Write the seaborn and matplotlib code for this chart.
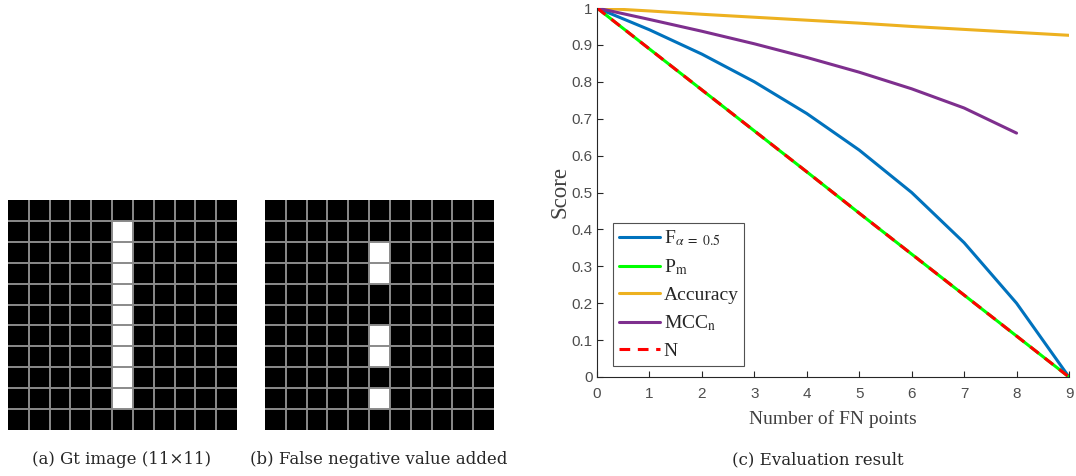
import numpy as np
import pandas as pd
import matplotlib
matplotlib.use("Agg")
import matplotlib.pyplot as plt
from matplotlib.colors import ListedColormap
import seaborn as sns

# ---- data ---------------------------------------------------------------
grid_size = 11
object_col = 5
gt_rows = [1, 2, 3, 4, 5, 6, 7, 8, 9]          # foreground pixels of the ground truth
fn_image_rows = [2, 3, 6, 7, 9]                # foreground kept after adding false negatives

fn_points = [0, 1, 2, 3, 4, 5, 6, 7, 8, 9]
f_alpha = [1.0, 0.941, 0.875, 0.800, 0.714, 0.615, 0.500, 0.364, 0.200, 0.0]
p_m = [1.0, 0.889, 0.778, 0.667, 0.556, 0.444, 0.333, 0.222, 0.111, 0.0]
accuracy = [1.0, 0.992, 0.983, 0.975, 0.967, 0.959, 0.950, 0.942, 0.934, 0.926]
mcc_points = [0, 1, 2, 3, 4, 5, 6, 7, 8]
mcc_n = [1.0, 0.969, 0.937, 0.903, 0.866, 0.826, 0.781, 0.729, 0.661]
n_score = [1.0, 0.889, 0.778, 0.667, 0.556, 0.444, 0.333, 0.222, 0.111, 0.0]

x_ticks = [0, 1, 2, 3, 4, 5, 6, 7, 8, 9]
y_ticks = [0, 0.1, 0.2, 0.3, 0.4, 0.5, 0.6, 0.7, 0.8, 0.9, 1]
y_tick_labels = ["0", "0.1", "0.2", "0.3", "0.4", "0.5", "0.6", "0.7", "0.8", "0.9", "1"]

captions = ["(a) Gt image (11\u00d711)", "(b) False negative value added", "(c) Evaluation result"]

# ---- style --------------------------------------------------------------
sns.set_theme(style="white")
plt.rcParams["font.family"] = ["Liberation Serif", "DejaVu Serif"]
plt.rcParams["mathtext.fontset"] = "stix"

fig = plt.figure(figsize=(10.76, 4.76), dpi=100)

def binary_image(rows):
    img = np.zeros((grid_size, grid_size))
    for r in rows:
        img[r, object_col] = 1
    return pd.DataFrame(img)

def draw_grid_image(ax, rows):
    sns.heatmap(binary_image(rows), ax=ax, cmap=ListedColormap(["black", "white"]),
                vmin=0, vmax=1, cbar=False, xticklabels=False, yticklabels=False)
    ax.hlines(np.arange(1, grid_size), 0, grid_size, colors="#8a8a8a", lw=1.4)
    ax.vlines(np.arange(1, grid_size), 0, grid_size, colors="#8a8a8a", lw=1.4)
    ax.set_xlim(0, grid_size)
    ax.set_ylim(grid_size, 0)
    for s in ax.spines.values():
        s.set_visible(False)

ax_a = fig.add_axes([8 / 1076, 1 - 430 / 476, 229 / 1076, 230 / 476])
draw_grid_image(ax_a, gt_rows)
ax_b = fig.add_axes([265 / 1076, 1 - 430 / 476, 229 / 1076, 230 / 476])
draw_grid_image(ax_b, fn_image_rows)

# ---- score curves -------------------------------------------------------
ax = fig.add_axes([597 / 1076, 1 - 377 / 476, 472 / 1076, 369 / 476])
lw = 2.2
sns.lineplot(x=fn_points, y=f_alpha, ax=ax, color="#0072BD", lw=lw, label=r"F$_{\alpha\ =\ 0.5}$")
sns.lineplot(x=fn_points, y=p_m, ax=ax, color="#00FF00", lw=lw, label=r"P$_{\rm m}$")
sns.lineplot(x=fn_points, y=accuracy, ax=ax, color="#EDB120", lw=lw, label="Accuracy")
sns.lineplot(x=mcc_points, y=mcc_n, ax=ax, color="#7E2F8E", lw=lw, label=r"MCC$_{\rm n}$")
sns.lineplot(x=fn_points, y=n_score, ax=ax, color="#FF0000", lw=lw, label="N",
             linestyle=(0, (3.5, 2.5)))

ax.set_xlim(0, 9)
ax.set_ylim(0, 1)
ax.set_xticks(x_ticks)
ax.set_yticks(y_ticks)
ax.set_yticklabels(y_tick_labels)
ax.tick_params(direction="in", length=4, width=0.8, colors="#262626",
               labelcolor="#4d4d4d", labelsize=11)
ax.tick_params(axis="x", pad=7)
ax.tick_params(axis="y", pad=3)
for lab in ax.get_xticklabels() + ax.get_yticklabels():
    lab.set_fontfamily(["Liberation Sans", "DejaVu Sans"])
ax.tick_params(axis="both", which="both", bottom=True, left=True)
sns.despine(ax=ax)
for s in ("left", "bottom"):
    ax.spines[s].set_color("#262626")
    ax.spines[s].set_linewidth(0.8)

ax.set_xlabel("Number of FN points", fontsize=14, color="#404040", labelpad=7)
ax.set_ylabel("Score", fontsize=16.5, color="#404040", labelpad=1)

leg = ax.legend(loc="lower left", bbox_to_anchor=(0.034, 0.03), fontsize=14,
                frameon=True, fancybox=False, edgecolor="#262626", handlelength=2.1,
                handletextpad=0.2, labelspacing=0.48, borderpad=0.3, borderaxespad=0)
leg.get_frame().set_linewidth(0.8)
for t in leg.get_texts():
    t.set_color("#262626")

# ---- captions -----------------------------------------------------------
cap_font = ["DejaVu Serif"]
fig.text(122 / 1076, 1 - 460 / 476, captions[0], ha="center", va="center", fontsize=12,
         family=cap_font)
fig.text(379 / 1076, 1 - 460 / 476, captions[1], ha="center", va="center", fontsize=12,
         family=cap_font)
fig.text(818 / 1076, 1 - 460 / 476, captions[2], ha="center", va="center", fontsize=12,
         family=cap_font)

fig.savefig("out.png", dpi=100)
